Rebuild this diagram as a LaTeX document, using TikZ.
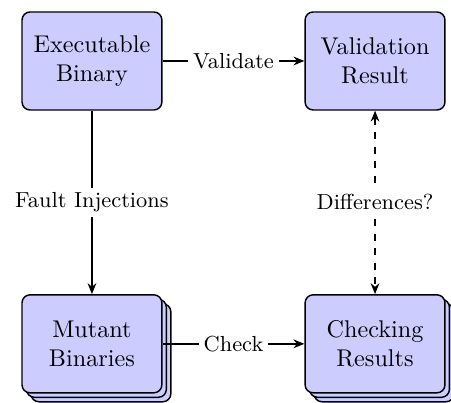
\documentclass[tikz,border=0pt]{standalone}
\usetikzlibrary{arrows.meta,shadows}
\begin{document}
\begin{tikzpicture}[x=1pt,y=1pt,
  >={Stealth[length=4.5pt,width=3.6pt]},
  block/.style={draw,semithick,fill=blue!20,rounded corners=3.3pt,
    minimum width=57.8pt,minimum height=40.5pt,align=center,inner sep=2pt},
  stack/.style={block,
    copy shadow={shadow xshift=3.7pt,shadow yshift=-3.7pt},
    copy shadow={shadow xshift=1.85pt,shadow yshift=-1.85pt}},
  conn/.style={semithick},
  lbl/.style={fill=white,font=\small,inner sep=2pt}]
  \useasboundingbox (0,0) rectangle (186.4,-166.5);

  % the four stages
  \node[block] (exe) at (38.0,-25.2) {Executable\\Binary};
  \node[block] (val) at (155.0,-25.2) {Validation\\Result};
  \node[stack] (mut) at (38.0,-142.1) {Mutant\\Binaries};
  \node[stack] (chk) at (155.0,-142.1) {Checking\\Results};

  % connectors with their labels
  \draw[conn,->] (exe) -- node[lbl] {Validate} (val);
  \draw[conn,->] (exe) -- node[lbl] {Fault Injections} (mut);
  \draw[conn,->] (mut) -- node[lbl] {Check} (chk);
  \draw[conn,<->,dashed] (val) -- node[lbl] {Differences?} (chk);
\end{tikzpicture}
\end{document}
